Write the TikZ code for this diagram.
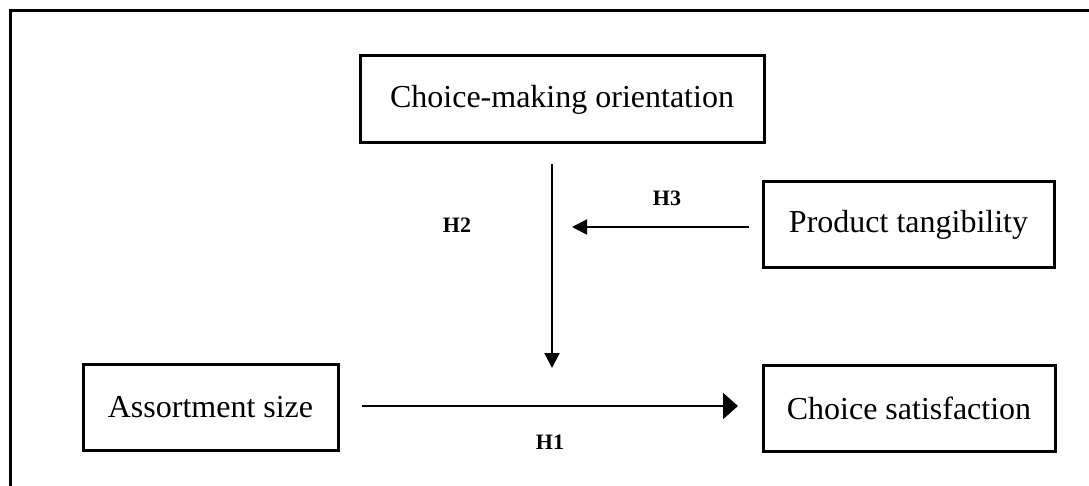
\documentclass[tikz,border=0pt]{standalone}
\usepackage{fontspec}
\setmainfont{Liberation Serif}
\usetikzlibrary{arrows.meta}
\tikzset{
  x=1pt, y=-1pt,
  box/.style={draw, line width=3pt, inner sep=0pt, font=\fontsize{32}{38}\selectfont},
  conn/.style={line width=2pt, -{Triangle[length=15pt,width=15pt]}},
  bigconn/.style={line width=2pt, -{Triangle[length=15pt,width=26pt]}},
  hlab/.style={font=\fontsize{22}{26}\selectfont\bfseries, inner sep=0pt},
}
\begin{document}
\begin{tikzpicture}
\useasboundingbox (0,0) rectangle (1089,486);
\draw[line width=3pt] (10,486) -- (10,10.5) -- (1089,10.5);
\node[box, minimum width=404pt, minimum height=87pt] (cmo) at (562,99.5) {Choice-making orientation};
\node[box, minimum width=291pt, minimum height=86pt] (pt) at (908.5,225) {Product tangibility};
\node[box, minimum width=255pt, minimum height=86pt] (as) at (210.5,407) {Assortment size};
\node[box, minimum width=292pt, minimum height=86pt] (cs) at (909,408) {Choice satisfaction};
\coordinate (v1) at (552,164);
\coordinate (v2) at (552,368);
\coordinate (h3tip) at (572,227);
\coordinate (h3start) at (749,227);
\coordinate (h1start) at (362,406);
\coordinate (h1tip) at (738,406);
\draw[conn] (v1) -- (v2);
\draw[conn] (h3start) -- (h3tip);
\draw[bigconn] (h1start) -- (h1tip);
\node[hlab] (h2) at (457,225) {H2};
\node[hlab] (h3) at (667,198) {H3};
\node[hlab] (h1) at (550,442) {H1};
\end{tikzpicture}
\end{document}
